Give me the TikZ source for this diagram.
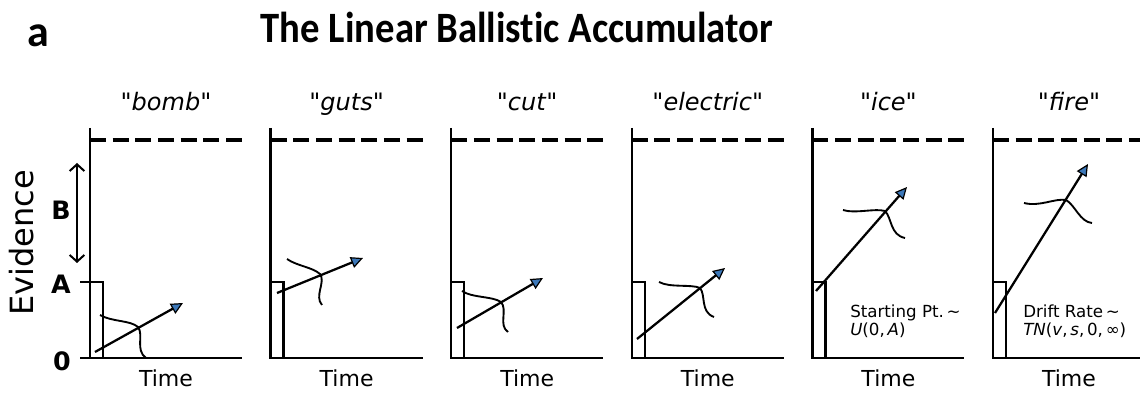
\documentclass[tikz,border=0pt]{standalone}
\usepackage{fontspec}
\setmainfont{DejaVu Sans}[Ligatures=TeXOff]
\newfontfamily\titlefont{Carlito}[Ligatures={NoCommon,NoDiscretionary,NoRare}]
\usetikzlibrary{arrows.meta}
\definecolor{tipblue}{RGB}{60,120,185}
\tikzset{
  axisline/.style={line width=1.7pt},
  threshold/.style={line width=3pt, dash pattern=on 12pt off 5pt},
  accum/.style={line width=1.7pt, -{Triangle[length=9pt,width=8.5pt,fill=tipblue,line width=0.9pt]}},
  distcurve/.style={line width=1.4pt},
  wordlab/.style={font=\fontsize{18}{20}\selectfont, anchor=base},
  timelab/.style={font=\fontsize{16.5}{18}\selectfont, anchor=base},
  ticklab/.style={font=\fontsize{19}{21}\selectfont\bfseries, anchor=east, inner sep=0pt},
  annot/.style={font=\fontsize{12.5}{14}\selectfont, anchor=base west, inner sep=0pt},
  rangearrow/.style={line width=1.5pt, {Straight Barb[length=5pt,width=11pt]}-{Straight Barb[length=5pt,width=11pt]}}
}
\begin{document}
\begin{tikzpicture}[x=0.75pt,y=-0.75pt]
\useasboundingbox (0,0) rectangle (1140,395);
\clip (0,0) rectangle (1140,395);

\node[font=\titlefont\bfseries\fontsize{29}{34}\selectfont, anchor=base, yscale=1.12, transform shape] (title) at (517,43) {The Linear Ballistic Accumulator};
\node[font=\titlefont\bfseries\fontsize{33}{36}\selectfont, anchor=base] (panelA) at (38,47) {a};

\foreach \i/\w in {0/bomb,1/guts,2/cut,3/electric,4/ice,5/fire}{
  \pgfmathsetmacro\X{90+180.6*\i}
  \draw[axisline] (\X,128) -- (\X,358) -- (\X+152,358);
  \draw[axisline] (\X,282) -| (\X+13,358);
  \draw[threshold] (\X,140) -- (\X+152,140);
  \node[wordlab] (word\i) at (\X+76,111) {"\textit{\w}"};
  \node[timelab] (time\i) at (\X+76,387) {Time};
}

% y-axis labels of the first panel
\draw[axisline] (80,282) -- (90,282);
\draw[axisline] (80,358) -- (90,358);
\node[ticklab] (labB) at (71,210) {B};
\node[ticklab] (labA) at (71,284) {A};
\node[ticklab] (lab0) at (71,361) {0};
\node[rotate=90, font=\fontsize{24}{27}\selectfont, anchor=base] (evid) at (33,243) {Evidence};
\coordinate (bTop) at (77,163);
\coordinate (bBot) at (77,263);
\draw[rangearrow] (bTop) -- (bBot);

% accumulators
\coordinate (s1) at (95,352);   \coordinate (t1) at (183,303);
\coordinate (s2) at (277,293);  \coordinate (t2) at (363,258);
\coordinate (s3) at (457,328);  \coordinate (t3) at (543,278);
\coordinate (s4) at (637,339);  \coordinate (t4) at (725,268);
\coordinate (s5) at (816,291);  \coordinate (t5) at (907,187);
\coordinate (s6) at (995,313);  \coordinate (t6) at (1088,164);
\foreach \k in {1,...,6}{ \draw[accum] (s\k) -- (t\k); }

% distributions
\draw[distcurve] (100,315) .. controls (112,322) and (130,320) .. (138,327) .. controls (144,335) and (135,350) .. (146,358);
\draw[distcurve] (287,259) .. controls (297,266) and (312,267) .. (320,274) .. controls (326,282) and (314,296) .. (322,305);
\draw[distcurve] (462,291) .. controls (472,298) and (492,296) .. (501,302) .. controls (508,310) and (498,325) .. (508,332);
\draw[distcurve] (659,282) .. controls (670,288) and (692,284) .. (700,288) .. controls (706,295) and (700,312) .. (714,317);
\draw[distcurve] (843,210) .. controls (855,214) and (875,208) .. (885,211) .. controls (892,218) and (890,235) .. (905,238);
\draw[distcurve] (1024,203) .. controls (1040,207) and (1055,198) .. (1066,200) .. controls (1075,205) and (1080,222) .. (1092,223);

% annotations
\node[annot] (sp1) at (850,318) {Starting Pt.\,∼};
\node[annot] (sp2) at (850,336) {\textit{U}(0,\,\textit{A})};
\node[annot] (dr1) at (1023,318) {Drift Rate\,∼};
\node[annot] (dr2) at (1023,336) {\textit{TN}(\textit{v},\,\textit{s},\,0,\,∞)};
\end{tikzpicture}
\end{document}
